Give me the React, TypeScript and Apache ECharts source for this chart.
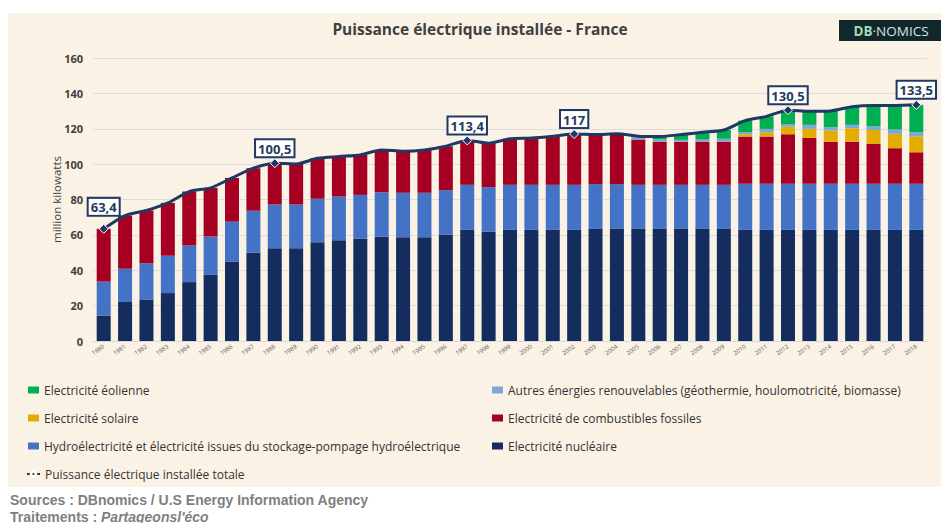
import React, { useEffect, useRef } from "react";
import * as echarts from "echarts";

const years = [
  "1980","1981","1982","1983","1984","1985","1986","1987","1988","1989",
  "1990","1991","1992","1993","1994","1995","1996","1997","1998","1999",
  "2000","2001","2002","2003","2004","2005","2006","2007","2008","2009",
  "2010","2011","2012","2013","2014","2015","2016","2017","2018",
];

const nuclear = [
  14.4, 22.0, 23.5, 27.1, 33.3, 37.6, 44.9, 49.9, 52.5, 52.5,
  55.9, 57.0, 57.8, 59.1, 58.7, 58.7, 60.2, 62.8, 61.9, 62.8,
  62.8, 62.8, 62.8, 63.4, 63.4, 63.4, 63.4, 63.4, 63.4, 63.4,
  62.8, 62.8, 62.8, 62.8, 62.8, 62.8, 62.8, 62.8, 62.8,
];
const hydro = [
  19.2, 18.8, 20.5, 21.1, 20.7, 21.5, 22.6, 23.7, 24.7, 24.7,
  24.5, 24.7, 24.8, 25.0, 25.1, 25.1, 25.1, 25.5, 25.1, 25.5,
  25.5, 25.5, 25.5, 25.3, 25.3, 24.9, 24.9, 24.9, 24.9, 24.9,
  26.1, 26.1, 26.1, 26.1, 26.1, 26.1, 26.1, 26.1, 26.1,
];
const fossil = [
  29.8, 30.1, 29.8, 29.9, 30.5, 27.5, 24.7, 24.1, 23.3, 22.9,
  22.9, 22.6, 22.6, 23.9, 23.5, 24.2, 24.8, 25.1, 24.8, 26.0,
  26.5, 27.5, 28.7, 28.0, 28.5, 25.6, 24.4, 24.4, 24.4, 24.4,
  26.7, 26.7, 28.0, 25.9, 23.8, 23.8, 22.5, 20.1, 17.8,
];
const solar = [
  0, 0, 0, 0, 0, 0, 0, 0, 0, 0,
  0, 0, 0, 0, 0, 0, 0, 0, 0, 0,
  0, 0, 0, 0, 0, 0, 0, 0, 0, 0,
  1.3, 2.4, 4.3, 5.1, 6.3, 7.6, 7.9, 8.1, 9.0,
];
const otherRenew = [
  0, 0, 0, 0, 0, 0, 0, 0, 0, 0,
  0, 0, 0, 0, 0, 0, 0, 0, 0, 0,
  0, 0, 0, 0, 0, 1.3, 1.2, 1.0, 1.2, 1.6,
  1.1, 1.9, 1.5, 2.3, 1.8, 1.9, 2.1, 2.5, 2.3,
];
const wind = [
  0, 0, 0, 0, 0, 0, 0, 0, 0, 0,
  0, 0, 0, 0, 0, 0, 0, 0, 0, 0,
  0, 0, 0, 0, 0, 0.6, 1.7, 3.0, 4.1, 5.0,
  6.6, 7.1, 7.8, 7.7, 9.3, 10.3, 11.8, 13.6, 15.5,
];
const totals = [
  63.4, 70.9, 73.8, 78.1, 84.5, 86.6, 92.2, 97.7, 100.5, 100.1,
  103.3, 104.3, 105.2, 108.0, 107.3, 108.0, 110.1, 113.4, 111.8, 114.3,
  114.8, 115.8, 117.0, 116.7, 117.2, 115.8, 115.6, 116.7, 118.0, 119.3,
  124.6, 127.0, 130.5, 129.9, 130.1, 132.5, 133.2, 133.2, 133.5,
];
const labeledYears = ["1980", "1988", "1997", "2002", "2012", "2018"];
const yTicks = { min: 0, max: 160, interval: 20 };

const NAMES = {
  wind: "Electricité éolienne",
  other: "Autres énergies renouvelables (géothermie, houlomotricité, biomasse)",
  solar: "Electricité solaire",
  fossil: "Electricité de combustibles fossiles",
  hydro: "Hydroélectricité et électricité issues du stockage-pompage hydroélectrique",
  nuclear: "Electricité nucléaire",
  total: "Puissance électrique installée totale",
};

const COLORS = {
  nuclear: "#152C5F",
  hydro: "#4472C4",
  fossil: "#A50021",
  solar: "#E2AC00",
  other: "#7EA6DA",
  wind: "#00B050",
  line: "#1F3864",
};

const FONT = "'Open Sans', 'Noto Sans', sans-serif";
const NARROW = "'Liberation Sans Narrow', 'Open Sans', sans-serif";
const ARIAL = "'Liberation Sans', Arial, sans-serif";

export default function App() {
  const ref = useRef<HTMLDivElement>(null);

  useEffect(() => {
    if (!ref.current) return;
    const chart = echarts.init(ref.current, undefined, { renderer: "svg" });

    const bar = (key: keyof typeof COLORS, name: string, data: number[]) => ({
      type: "bar",
      name,
      stack: "total",
      data,
      barWidth: 14,
      itemStyle: { color: COLORS[key] },
      emphasis: { disabled: true },
    });

    const lineData = totals.map((v, i) => {
      if (labeledYears.includes(years[i])) {
        return {
          value: v,
          symbol: "diamond",
          symbolSize: 9,
          label: {
            show: true,
            distance: years[i] === "1980" ? 9 : 2,
          },
        };
      }
      return { value: v, symbol: "none" };
    });

    const legendBase = {
      padding: 0,
      itemWidth: 11,
      itemHeight: 7,
      selectedMode: false,
      textStyle: { fontFamily: FONT, fontSize: 12, color: "#333333", lineHeight: 14 },
    };
    const mkLegend = (name: string, left: number, cy: number) => ({
      ...legendBase,
      left,
      top: cy - 7,
      data: [{ name, icon: "rect" }],
    });

    const option: any = {
      animation: false,
      backgroundColor: "#ffffff",
      title: {
        text: "Puissance électrique installée - France",
        left: 480,
        textAlign: "center",
        top: 21,
        padding: 0,
        textStyle: { fontFamily: FONT, fontSize: 15.5, fontWeight: "bold", color: "#404040" },
      },
      legend: [
        mkLegend(NAMES.wind, 28, 390),
        mkLegend(NAMES.solar, 28, 418),
        mkLegend(NAMES.hydro, 28, 446),
        {
          ...legendBase,
          left: 26,
          top: 474 - 7,
          itemWidth: 13,
          itemHeight: 7,
          data: [{ name: NAMES.total }],
        },
        mkLegend(NAMES.other, 492, 390),
        mkLegend(NAMES.fossil, 492, 418),
        mkLegend(NAMES.nuclear, 492, 446),
      ],
      grid: { left: 93, right: 14, top: 58, bottom: 182, containLabel: false },
      xAxis: {
        type: "category",
        data: years,
        axisLine: { lineStyle: { color: "#D9D9D9", width: 1 } },
        axisTick: { show: false },
        axisLabel: {
          interval: 0,
          rotate: 35,
          fontSize: 6,
          color: "#595959",
          fontFamily: FONT,
          margin: 5,
        },
      },
      yAxis: {
        type: "value",
        min: yTicks.min,
        max: yTicks.max,
        interval: yTicks.interval,
        name: "million kilowatts",
        nameLocation: "middle",
        nameRotate: 90,
        nameGap: 31,
        nameMoveOverlap: false,
        nameTextStyle: { fontFamily: FONT, fontSize: 11.5, color: "#404040" },
        axisLine: { show: false },
        axisTick: { show: false },
        axisLabel: {
          fontFamily: FONT,
          fontSize: 11,
          fontWeight: "bold",
          color: "#404040",
          margin: 10,
        },
        splitLine: { lineStyle: { color: "#DCDCE2", width: 1 } },
      },
      graphic: [
        {
          type: "rect",
          z: -10,
          silent: true,
          shape: { x: 8, y: 13, width: 933, height: 474 },
          style: { fill: "#FBF2E6" },
        },
        {
          type: "rect",
          z: 10,
          silent: true,
          shape: { x: 839, y: 20, width: 102, height: 21 },
          style: { fill: "#10282C" },
        },
        {
          type: "text",
          z: 11,
          silent: true,
          x: 891,
          y: 31,
          style: {
            text: "{b|DB}{n|·NOMICS}",
            align: "center",
            verticalAlign: "middle",
            rich: {
              b: { fontFamily: FONT, fontSize: 13.5, fontWeight: "bold", fill: "#A6D8B6" },
              n: { fontFamily: FONT, fontSize: 13.5, fill: "#DCE2E2" },
            },
          },
        },
        {
          type: "text",
          silent: true,
          x: 10,
          y: 500,
          style: {
            text: "Sources : DBnomics / U.S Energy Information Agency",
            fontFamily: ARIAL,
            fontSize: 14,
            fontWeight: "bold",
            fill: "#7F7F7F",
            verticalAlign: "middle",
          },
        },
        {
          type: "text",
          silent: true,
          x: 10,
          y: 516.5,
          style: {
            text: "{a|Traitements : }{b|Partageonsl'éco}",
            verticalAlign: "middle",
            rich: {
              a: { fontFamily: ARIAL, fontSize: 14, fontWeight: "bold", fill: "#7F7F7F" },
              b: {
                fontFamily: ARIAL,
                fontSize: 14,
                fontWeight: "bold",
                fontStyle: "italic",
                fill: "#7F7F7F",
              },
            },
          },
        },
      ],
      series: [
        bar("nuclear", NAMES.nuclear, nuclear),
        bar("hydro", NAMES.hydro, hydro),
        bar("fossil", NAMES.fossil, fossil),
        bar("solar", NAMES.solar, solar),
        bar("other", NAMES.other, otherRenew),
        bar("wind", NAMES.wind, wind),
        {
          type: "line",
          name: NAMES.total,
          data: lineData,
          smooth: 0.25,
          symbol: "diamond",
          symbolSize: 9,
          z: 5,
          lineStyle: { color: COLORS.line, width: 3 },
          itemStyle: { color: COLORS.line, borderColor: "#ffffff", borderWidth: 1 },
          emphasis: { disabled: true },
          label: {
            show: false,
            position: "top",
            formatter: (p: any) => String(p.value).replace(".", ","),
            fontFamily: NARROW,
            fontSize: 13,
            fontWeight: "bold",
            color: "#263A5E",
            backgroundColor: "#ffffff",
            borderColor: COLORS.line,
            borderWidth: 2,
            padding: [2, 2, 1, 2],
            lineHeight: 13,
          },
        },
      ],
    };

    chart.setOption(option);
    return () => chart.dispose();
  }, []);

  return (
    <div
      ref={ref}
      style={{ position: "absolute", left: 0, top: 0, width: 941, height: 523 }}
    />
  );
}
